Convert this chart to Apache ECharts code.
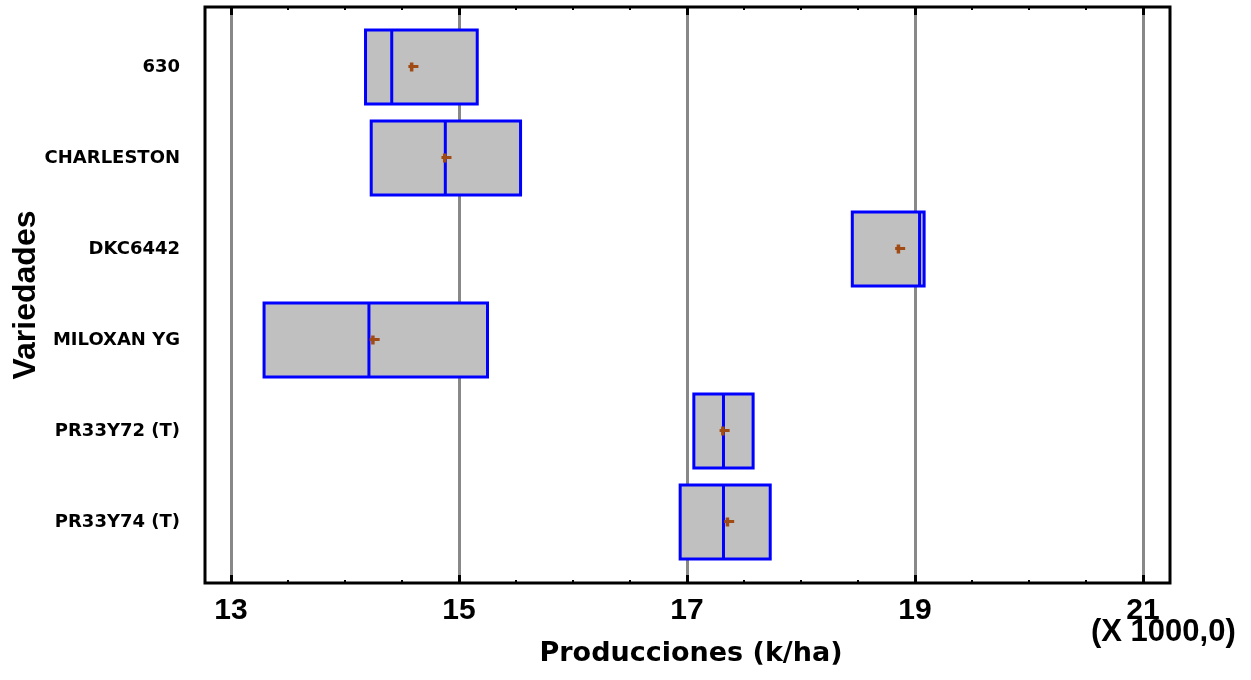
<!DOCTYPE html>
<html>
<head>
<meta charset="utf-8">
<script src="https://cdn.jsdelivr.net/npm/echarts@6/dist/echarts.min.js"></script>
<style>
html,body{margin:0;padding:0;background:#fff;}
#chart{width:1251px;height:680px;}
</style>
</head>
<body>
<div id="chart"></div>
<script>
// Data (values in thousands of k/ha)
const categories = ['630', 'CHARLESTON', 'DKC6442', 'MILOXAN YG', 'PR33Y72 (T)', 'PR33Y74 (T)'];
const minVals    = [14.18, 14.23, 18.45, 13.29, 17.06, 16.94];
const q1Vals     = [14.18, 14.23, 18.45, 13.29, 17.06, 16.94];
const medianVals = [14.41, 14.88, 19.04, 14.21, 17.32, 17.32];
const q3Vals     = [15.16, 15.54, 19.08, 15.25, 17.58, 17.73];
const maxVals    = [15.16, 15.54, 19.08, 15.25, 17.58, 17.73];
const meanVals   = [14.60, 14.89, 18.87, 14.26, 17.33, 17.37];
const xTicks = [13, 15, 17, 19, 21];

const boxData = categories.map((c, i) => [minVals[i], q1Vals[i], medianVals[i], q3Vals[i], maxVals[i]]);
const meanData = categories.map((c, i) => [meanVals[i], c]);

const chart = echarts.init(document.getElementById('chart'));
const boldFont = 'Liberation Sans';
chart.setOption({
  animation: false,
  backgroundColor: '#ffffff',
  grid: [
    // frame
    {left: 205, right: 81, top: 7, bottom: 97, show: true, borderColor: '#000', borderWidth: 3, backgroundColor: 'transparent', z: 10},
    // grid lines / ticks / labels
    {left: 231, right: 108, top: 7, bottom: 97},
    // boxes
    {left: 231, right: 108, top: 21.5, bottom: 112.5}
  ],
  xAxis: [
    {gridIndex: 0, type: 'value', min: 0, max: 1, show: false},
    {gridIndex: 1, type: 'value', min: xTicks[0], max: xTicks[xTicks.length - 1], interval: 2, position: 'bottom',
      axisLine: {show: false},
      axisTick: {show: true, inside: true, length: 8, lineStyle: {color: '#000', width: 3}},
      minorTick: {show: true, splitNumber: 4, length: 3, lineStyle: {color: '#000', width: 2}},
      splitLine: {show: true, lineStyle: {color: '#888888', width: 3}},
      axisLabel: {margin: 13, color: '#000', fontFamily: boldFont, fontWeight: 'bold', fontSize: 30},
      name: 'Producciones (k/ha)', nameLocation: 'middle', nameGap: 57,
      nameTextStyle: {color: '#000', fontFamily: 'DejaVu Sans', fontWeight: 'bold', fontSize: 27, padding: [0, 0, 0, 8]}
    },
    {gridIndex: 1, type: 'value', min: xTicks[0], max: xTicks[xTicks.length - 1], interval: 2, position: 'top',
      axisLine: {show: false},
      axisTick: {show: true, inside: true, length: 8, lineStyle: {color: '#000', width: 3}},
      minorTick: {show: true, splitNumber: 4, length: 3, lineStyle: {color: '#000', width: 2}},
      splitLine: {show: false}, axisLabel: {show: false}
    },
    {gridIndex: 2, type: 'value', min: xTicks[0], max: xTicks[xTicks.length - 1], show: false}
  ],
  yAxis: [
    {gridIndex: 0, type: 'value', min: 0, max: 1,
      axisLine: {show: false}, axisTick: {show: false}, axisLabel: {show: false}, splitLine: {show: false},
      name: 'Variedades', nameLocation: 'middle', nameGap: 163, nameRotate: 90,
      nameTextStyle: {color: '#000', fontFamily: boldFont, fontWeight: 'bold', fontSize: 32}
    },
    {gridIndex: 1, type: 'value', min: 0, max: 1, show: false},
    {gridIndex: 2, type: 'category', data: categories, inverse: true,
      axisLine: {show: false}, axisTick: {show: false}, splitLine: {show: false},
      axisLabel: {margin: 51, color: '#000', fontFamily: 'DejaVu Sans', fontWeight: 'bold', fontSize: 18}
    }
  ],
  graphic: [
    {type: 'text', left: 1091, top: 617, z: 20,
      style: {text: '(X 1000,0)', font: 'bold 31px "Liberation Sans", Arial, sans-serif', fill: '#000'}}
  ],
  series: [
    {type: 'boxplot', xAxisIndex: 3, yAxisIndex: 2, data: boxData, boxWidth: [74, 74],
      itemStyle: {color: '#c0c0c0', borderColor: '#0000ff', borderWidth: 3},
      z: 3
    },
    {type: 'scatter', xAxisIndex: 3, yAxisIndex: 2, data: meanData,
      symbol: 'path://M0,2.5H10V5.5H0Z M1.5,0H5V9H1.5Z', symbolSize: [10, 9],
      itemStyle: {color: '#a04a14', opacity: 1}, z: 5
    }
  ]
});
</script>
</body>
</html>
